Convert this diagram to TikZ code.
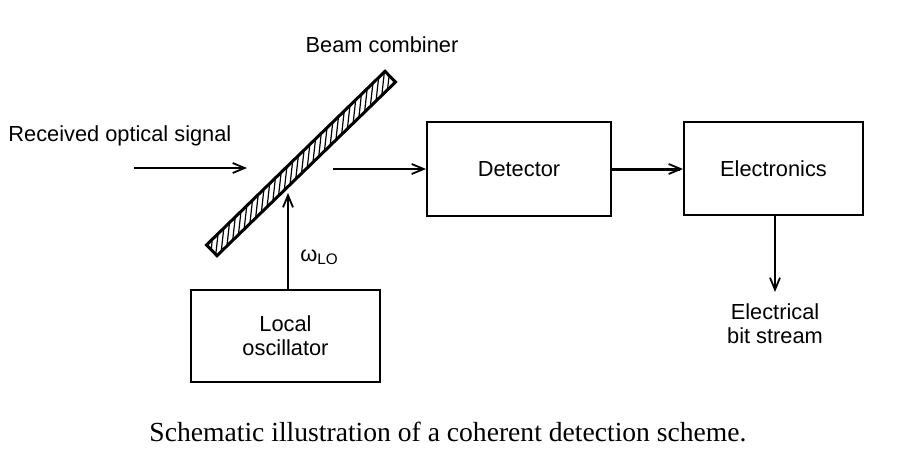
\documentclass[tikz,border=0pt]{standalone}
\usepackage{fontspec}
\setmainfont{Liberation Sans}
\newfontfamily\capfont{Liberation Serif}
\usetikzlibrary{arrows.meta}
\begin{document}
\begin{tikzpicture}[x=0.5pt,y=-0.5pt,
  blk/.style={draw,line width=1pt,inner sep=0pt,font=\fontsize{10.9}{13}\selectfont,align=center},
  lbl/.style={inner sep=0pt,font=\fontsize{10.9}{13}\selectfont,align=center},
  arr/.style={line width=1pt,-{Straight Barb[length=6pt,width=5pt,line width=0.9pt]}}]
\useasboundingbox (0,0) rectangle (900,455);
% blocks
\node[blk,minimum width=92pt,minimum height=47pt] (det) at (519,169) {Detector};
\node[blk,minimum width=89.5pt,minimum height=46.5pt] (ele) at (773.5,168.5) {Electronics};
\node[blk,minimum width=94.5pt,minimum height=46pt] (lo) at (285.5,336) {Local\\[-1pt]oscillator};
% beam combiner
\node[draw,line width=1pt,rotate=44.2,minimum width=124pt,minimum height=7pt,inner sep=0pt] (bc) at (301,163.5) {};
\begin{scope}[shift={(301,163.5)},rotate=44.2]
  \clip (-124,-7) rectangle (124,7);
  \foreach \s in {-150,-142,...,140} \draw[line width=0.6pt] (\s,7) -- (\s+17,-7);
\end{scope}
\draw[line width=1pt] (bc.north west) -- (bc.north east) -- (bc.south east) -- (bc.south west) -- cycle;
% labels
\node[lbl] (bclbl) at (382,45) {Beam combiner};
\node[lbl,anchor=west] (rx) at (8,136) {Received optical signal};
\node[lbl,anchor=west] (w) at (300,257) {ω\textsubscript{LO}};
\node[lbl] (out) at (775,324) {Electrical\\[-1pt]bit stream};
\node[inner sep=0pt,font=\capfont\fontsize{13.8}{16}\selectfont] (cap) at (448,432) {Schematic illustration of a coherent detection scheme.};
% connectors
\coordinate (inA) at (134,168);
\coordinate (inB) at (247,168);
\coordinate (outA) at (333,169);
\coordinate (loB) at (288,193);
\coordinate (bitB) at (775,292);
\draw[arr] (inA) -- (inB);
\draw[arr] (outA) -- (outA -| det.west);
\draw[arr,line width=1.5pt] (det.east |- 0,169) -- (ele.west |- 0,169);
\draw[arr] (lo.north -| loB) -- (loB);
\draw[arr] (ele.south -| bitB) -- (bitB);
\end{tikzpicture}
\end{document}
